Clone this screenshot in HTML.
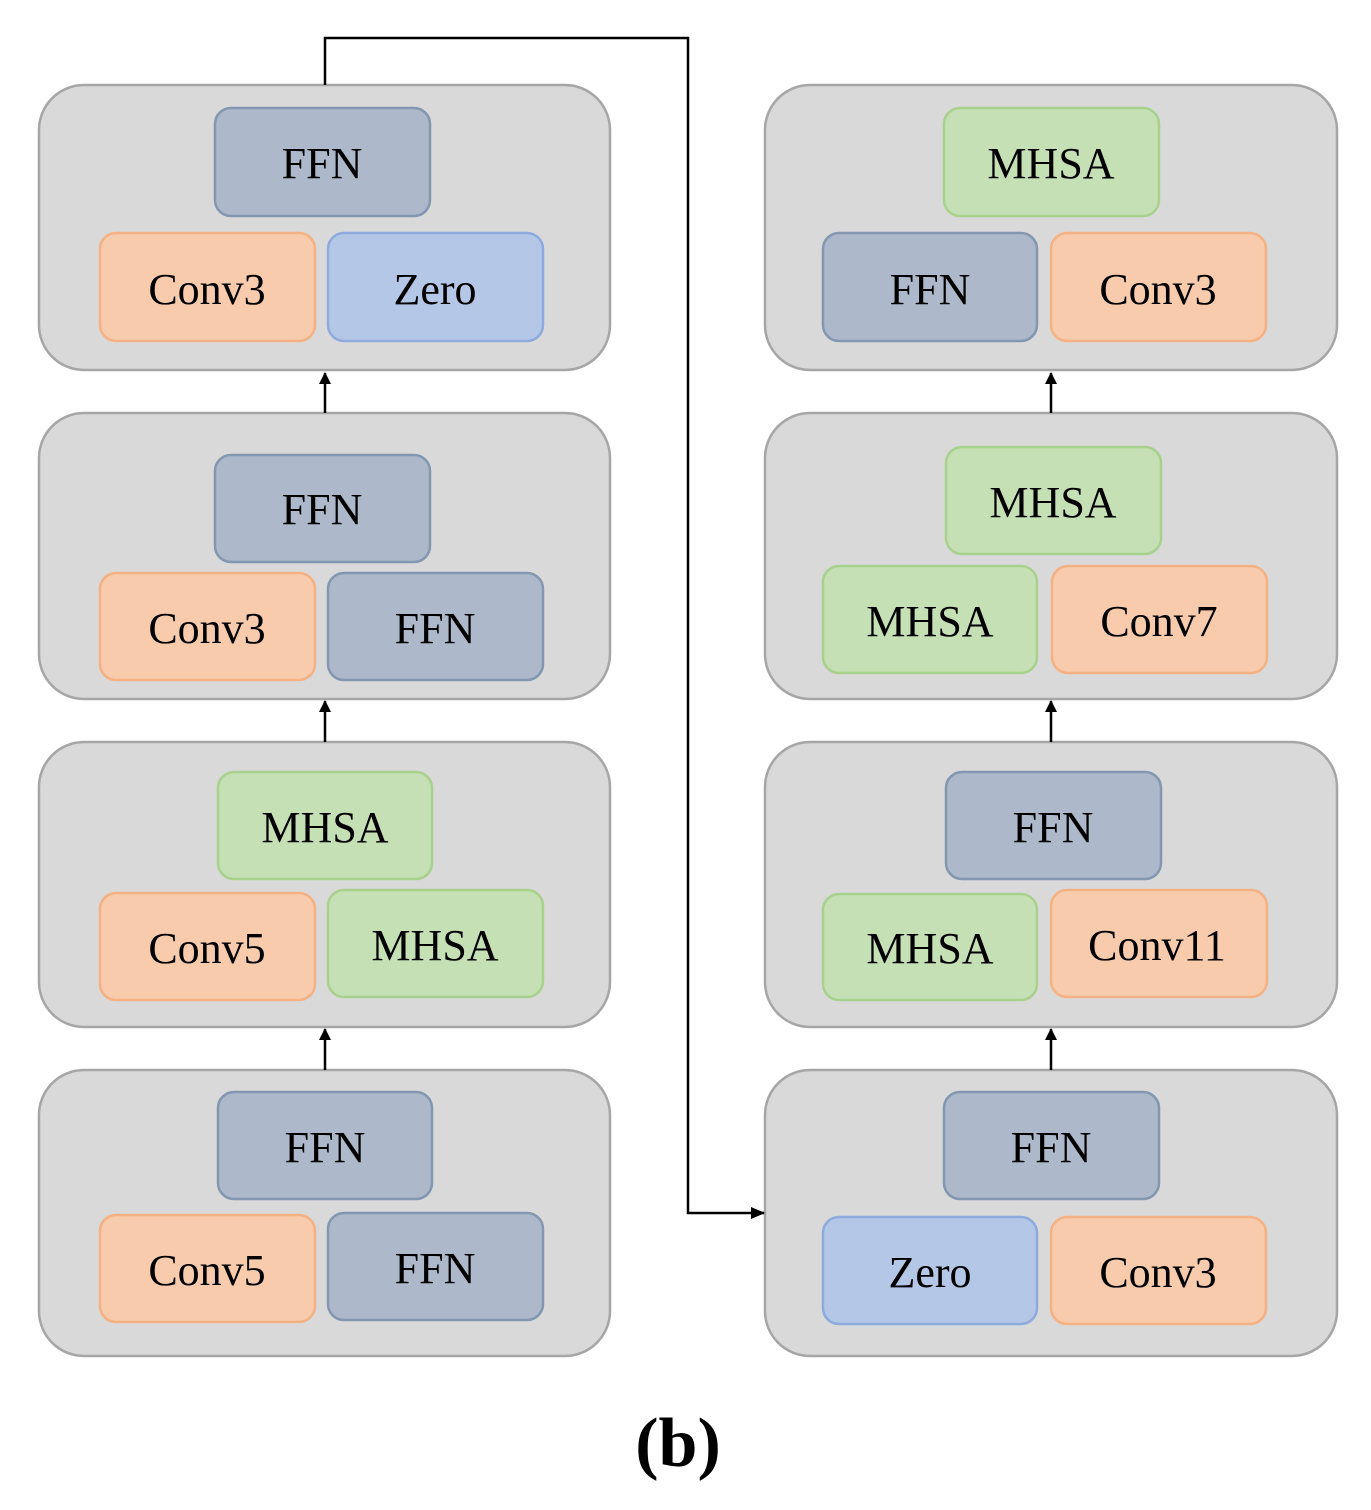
<!DOCTYPE html>
<html><head><meta charset="utf-8"><style>body{margin:0;background:#fff}svg{display:block}</style></head>
<body>
<svg width="1371" height="1510" xmlns="http://www.w3.org/2000/svg" font-family="'Liberation Serif',serif" font-size="44" text-anchor="middle">
<defs><marker id="a" markerWidth="12" markerHeight="12" refX="11" refY="6" orient="auto" markerUnits="userSpaceOnUse"><path d="M0,0 L12,6 L0,12 z" fill="#000"/></marker>
<marker id="b" markerWidth="14" markerHeight="12" refX="13" refY="6" orient="auto" markerUnits="userSpaceOnUse"><path d="M0,0 L14,6 L0,12 z" fill="#000"/></marker></defs>
<g fill="#d9d9d9" stroke="#a6a6a6" stroke-width="2.5">
<rect x="39" y="85" width="571" height="285" rx="45"/>
<rect x="39" y="413" width="571" height="286" rx="45"/>
<rect x="39" y="742" width="571" height="285" rx="45"/>
<rect x="39" y="1070" width="571" height="286" rx="45"/>
<rect x="765" y="85" width="572" height="285" rx="45"/>
<rect x="765" y="413" width="572" height="286" rx="45"/>
<rect x="765" y="742" width="572" height="285" rx="45"/>
<rect x="765" y="1070" width="572" height="286" rx="45"/>
</g>
<g stroke-width="2.5">
<g fill="#adb9ca" stroke="#8497b0">
<rect x="215" y="108" width="215" height="108" rx="16"/>
<rect x="215" y="455" width="215" height="107" rx="16"/>
<rect x="328" y="573" width="215" height="107" rx="16"/>
<rect x="218" y="1092" width="214" height="107" rx="16"/>
<rect x="328" y="1213" width="215" height="107" rx="16"/>
<rect x="823" y="233" width="214" height="108" rx="16"/>
<rect x="946" y="772" width="215" height="107" rx="16"/>
<rect x="944" y="1092" width="215" height="107" rx="16"/>
</g>
<g fill="#f8cbad" stroke="#f4b183">
<rect x="100" y="233" width="215" height="108" rx="16"/>
<rect x="100" y="573" width="215" height="107" rx="16"/>
<rect x="100" y="893" width="215" height="107" rx="16"/>
<rect x="100" y="1215" width="215" height="107" rx="16"/>
<rect x="1051" y="233" width="215" height="108" rx="16"/>
<rect x="1052" y="566" width="215" height="107" rx="16"/>
<rect x="1051" y="890" width="216" height="107" rx="16"/>
<rect x="1051" y="1217" width="215" height="107" rx="16"/>
</g>
<g fill="#c5e0b4" stroke="#a9d18e">
<rect x="218" y="772" width="214" height="107" rx="16"/>
<rect x="328" y="890" width="215" height="107" rx="16"/>
<rect x="944" y="108" width="215" height="108" rx="16"/>
<rect x="946" y="447" width="215" height="107" rx="16"/>
<rect x="823" y="566" width="214" height="107" rx="16"/>
<rect x="823" y="894" width="214" height="106" rx="16"/>
</g>
<g fill="#b4c7e7" stroke="#8faadc">
<rect x="328" y="233" width="215" height="108" rx="16"/>
<rect x="823" y="1217" width="214" height="107" rx="16"/>
</g>
</g>
<g fill="#000">
<text x="322" y="178">FFN</text>
<text x="207" y="304">Conv3</text>
<text x="435" y="304">Zero</text>
<text x="322" y="524">FFN</text>
<text x="207" y="643">Conv3</text>
<text x="435" y="643">FFN</text>
<text x="325" y="842">MHSA</text>
<text x="207" y="963">Conv5</text>
<text x="435" y="960">MHSA</text>
<text x="325" y="1162">FFN</text>
<text x="207" y="1285">Conv5</text>
<text x="435" y="1283">FFN</text>
<text x="1051" y="178">MHSA</text>
<text x="930" y="304">FFN</text>
<text x="1158" y="304">Conv3</text>
<text x="1053" y="517">MHSA</text>
<text x="930" y="636">MHSA</text>
<text x="1159" y="636">Conv7</text>
<text x="1053" y="842">FFN</text>
<text x="930" y="963">MHSA</text>
<text x="1157" y="960">Conv11</text>
<text x="1051" y="1162">FFN</text>
<text x="930" y="1287">Zero</text>
<text x="1158" y="1287">Conv3</text>
<text x="678" y="1466" font-size="70" font-weight="bold">(b)</text>
</g>
<g stroke="#000" stroke-width="2.5" fill="none">
<line x1="325" y1="413" x2="325" y2="373" marker-end="url(#a)"/>
<line x1="325" y1="742" x2="325" y2="701" marker-end="url(#a)"/>
<line x1="325" y1="1070" x2="325" y2="1029" marker-end="url(#a)"/>
<line x1="1051" y1="413" x2="1051" y2="373" marker-end="url(#a)"/>
<line x1="1051" y1="742" x2="1051" y2="701" marker-end="url(#a)"/>
<line x1="1051" y1="1070" x2="1051" y2="1029" marker-end="url(#a)"/>
<polyline points="325,85 325,38 688,38 688,1213 764,1213" marker-end="url(#b)"/>
</g>
</svg>
</body></html>
